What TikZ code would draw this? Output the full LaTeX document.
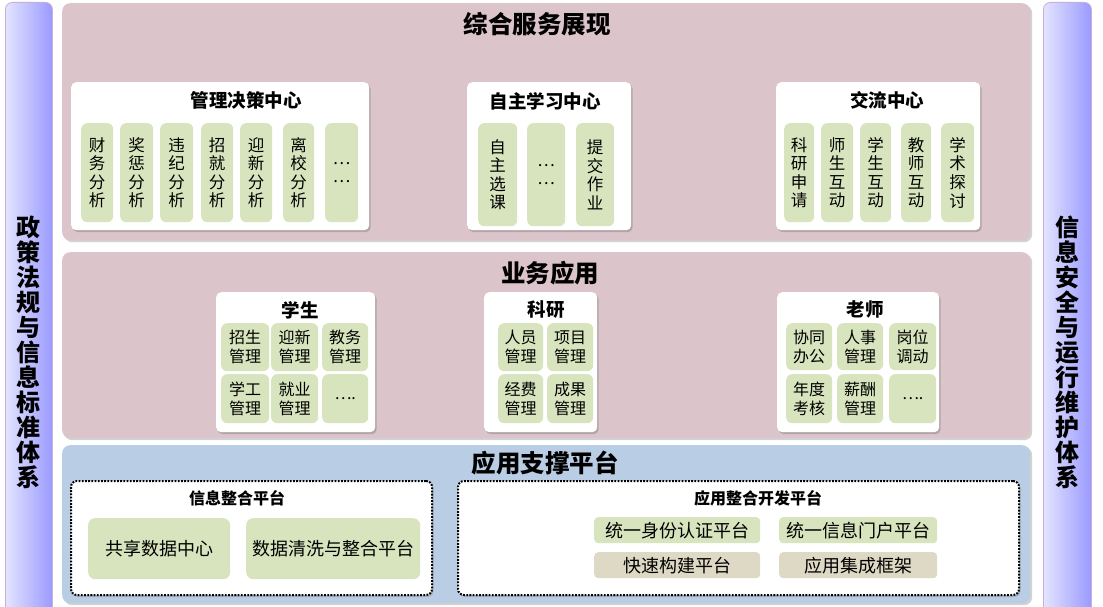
\documentclass[tikz,border=0pt]{standalone}
\usepackage{fontspec}
\setmainfont{Noto Sans CJK SC}
\usetikzlibrary{shadows}
\definecolor{pinkbg}{HTML}{DCC4CB}
\definecolor{bluebg}{HTML}{B9CDE4}
\definecolor{subgreen}{HTML}{D8E4BD}
\definecolor{subbeige}{HTML}{DDD9C4}
\definecolor{barL}{HTML}{E4E4FF}
\definecolor{barR}{HTML}{9A9AFF}
\definecolor{barborder}{HTML}{C4B0D8}
\tikzset{
  panel/.style={rounded corners=8pt, inner sep=0pt,
    drop shadow={shadow xshift=2pt,shadow yshift=-2pt,opacity=0.35}},
  whitebox/.style={fill=white, rounded corners=5pt, inner sep=0pt,
    drop shadow={shadow xshift=1.5pt,shadow yshift=-2pt,opacity=0.45}},
  subv/.style={fill=subgreen, rounded corners=6pt, inner sep=0pt, align=center,
    font=\fontsize{16.5}{18.6}\selectfont},
  subh/.style={fill=subgreen, rounded corners=6pt, inner sep=0pt, align=center,
    font=\fontsize{16}{19}\selectfont},
  subw/.style={rounded corners=7pt, inner sep=0pt, align=center,
    font=\fontsize{18}{20}\selectfont},
  dotbox/.style={fill=white, draw=black, line width=2pt, dash pattern=on 1.8pt off 1.4pt,
    rounded corners=6pt, inner sep=0pt,
    drop shadow={shadow xshift=1.5pt,shadow yshift=-2pt,opacity=0.35}},
  sidebar/.style={left color=barL, right color=barR, draw=barborder, line width=0.8pt,
    rounded corners=7pt, inner sep=0pt},
  sidetext/.style={align=center, inner sep=0pt, font=\fontsize{24}{25}\selectfont\bfseries},
  bigtitle/.style={inner sep=0pt, font=\fontsize{24.5}{26}\selectfont\bfseries},
  boxtitle/.style={inner sep=0pt, font=\fontsize{18.5}{20}\selectfont\bfseries},
  midtitle/.style={inner sep=0pt, font=\fontsize{18.5}{20}\selectfont\bfseries},
  smalltitle/.style={inner sep=0pt, font=\fontsize{16}{18}\selectfont\bfseries},
}
\newcommand\bx[7]{\node[#1,anchor=north west,minimum width={(#4)-(#2)},minimum height={(#5)-(#3)}] (#6) at (#2,#3) {#7};}
\begin{document}
\begin{tikzpicture}[x=1pt,y=-1pt]
\useasboundingbox (0,0) rectangle (1103,607);
\fill[white] (0,0) rectangle (1103,607);

% side bars
\bx{sidebar}{5}{2}{52}{625}{lbar}{}
\bx{sidebar}{1043}{2}{1091}{625}{rbar}{}
\node[sidetext] (ltext) at (28.5,352) {政\\策\\法\\规\\与\\信\\息\\标\\准\\体\\系};
\node[sidetext] (rtext) at (1067,352) {信\\息\\安\\全\\与\\运\\行\\维\\护\\体\\系};

% panels
\bx{panel,fill=pinkbg}{62}{3}{1030}{240}{top}{}
\bx{panel,fill=pinkbg}{62}{252}{1030}{438}{mid}{}
\bx{panel,fill=bluebg}{62}{445}{1030}{603}{bot}{}
\node[bigtitle] (toptitle) at (537,24) {综合服务展现};
\node[bigtitle] (midtitle) at (550,273) {业务应用};
\node[bigtitle] (bottitle) at (545,463) {应用支撑平台};

% ---- top row boxes
\bx{whitebox}{71}{82}{369}{230}{gljc}{}
\node[boxtitle] (gljct) at (246,100) {管理决策中心};
\bx{subv}{81}{123}{113}{222}{g1}{财\\务\\分\\析}
\bx{subv}{120}{123}{153}{222}{g2}{奖\\惩\\分\\析}
\bx{subv}{160}{123}{193}{222}{g3}{违\\纪\\分\\析}
\bx{subv}{201}{123}{233}{222}{g4}{招\\就\\分\\析}
\bx{subv}{240}{123}{272}{222}{g5}{迎\\新\\分\\析}
\bx{subv}{283}{123}{314}{222}{g6}{离\\校\\分\\析}
\bx{subv}{325}{123}{358}{222}{g7}{…\\…}

\bx{whitebox}{467}{82}{631}{230}{zzxx}{}
\node[boxtitle] (zzxxt) at (545,101) {自主学习中心};
\bx{subv}{478}{123}{517}{226}{z1}{自\\主\\选\\课}
\bx{subv}{527}{123}{565}{226}{z2}{…\\…}
\bx{subv}{576}{123}{614}{226}{z3}{提\\交\\作\\业}

\bx{whitebox}{776}{82}{980}{230}{jl}{}
\node[boxtitle] (jlt) at (887,100) {交流中心};
\bx{subv}{784}{123}{814}{222}{j1}{科\\研\\申\\请}
\bx{subv}{821}{123}{853}{222}{j2}{师\\生\\互\\动}
\bx{subv}{860}{123}{891}{222}{j3}{学\\生\\互\\动}
\bx{subv}{901}{123}{931}{222}{j4}{教\\师\\互\\动}
\bx{subv}{941}{123}{974}{222}{j5}{学\\术\\探\\讨}

% ---- middle row boxes
\bx{whitebox}{216}{292}{375}{432}{xs}{}
\node[midtitle] (xst) at (300,310) {学生};
\bx{subh}{221}{323}{269}{371}{x1}{招生\\管理}
\bx{subh}{271}{323}{318}{371}{x2}{迎新\\管理}
\bx{subh}{322}{323}{368}{371}{x3}{教务\\管理}
\bx{subh}{221}{374}{269}{423}{x4}{学工\\管理}
\bx{subh}{271}{374}{318}{423}{x5}{就业\\管理}
\bx{subh}{322}{374}{368}{423}{x6}{….}

\bx{whitebox}{484}{292}{597}{432}{ky}{}
\node[midtitle] (kyt) at (546,310) {科研};
\bx{subh}{498}{323}{543}{371}{k1}{人员\\管理}
\bx{subh}{547}{323}{593}{371}{k2}{项目\\管理}
\bx{subh}{498}{374}{543}{423}{k3}{经费\\管理}
\bx{subh}{547}{374}{593}{423}{k4}{成果\\管理}

\bx{whitebox}{777}{292}{939}{432}{ls}{}
\node[midtitle] (lst) at (865,309) {老师};
\bx{subh}{786}{323}{832}{370}{l1}{协同\\办公}
\bx{subh}{837}{323}{883}{370}{l2}{人事\\管理}
\bx{subh}{889}{323}{936}{370}{l3}{岗位\\调动}
\bx{subh}{786}{374}{832}{423}{l4}{年度\\考核}
\bx{subh}{837}{374}{883}{423}{l5}{薪酬\\管理}
\bx{subh}{889}{374}{936}{423}{l6}{….}

% ---- bottom row boxes
\bx{dotbox}{70}{480}{431}{594}{xxzh}{}
\node[smalltitle] (xxzht) at (237,498) {信息整合平台};
\bx{subw,fill=subgreen}{88}{518}{230}{579}{b1}{共享数据中心}
\bx{subw,fill=subgreen}{246}{518}{420}{579}{b2}{数据清洗与整合平台}

\bx{dotbox}{457}{480}{1018}{594}{yyzh}{}
\node[smalltitle] (yyzht) at (758,498) {应用整合开发平台};
\bx{subw,fill=subgreen,rounded corners=4pt}{594}{517}{760}{543}{c1}{统一身份认证平台}
\bx{subw,fill=subgreen,rounded corners=4pt}{779}{517}{937}{543}{c2}{统一信息门户平台}
\bx{subw,fill=subbeige,rounded corners=4pt}{594}{552}{760}{578}{c3}{快速构建平台}
\bx{subw,fill=subbeige,rounded corners=4pt}{779}{552}{937}{578}{c4}{应用集成框架}
\end{tikzpicture}
\end{document}
